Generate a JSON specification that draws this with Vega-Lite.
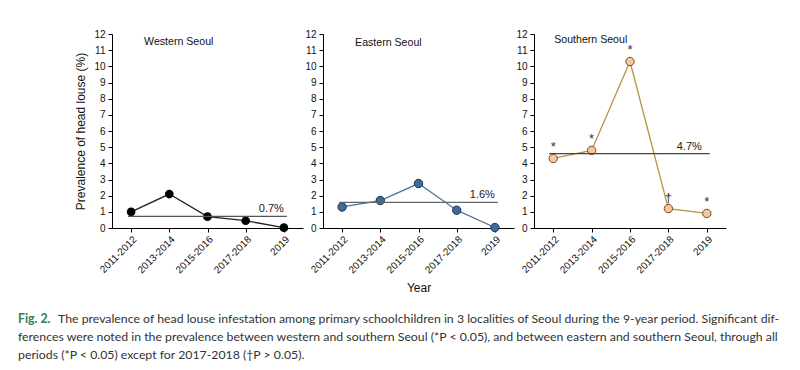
{
  "$schema": "https://vega.github.io/schema/vega-lite/v6.json",
  "padding": {"left": 18, "top": 29, "right": 0, "bottom": 0},
  "background": "white",
  "config": {
    "view": {"stroke": null},
    "font": "Liberation Sans",
    "axis": {
      "domainColor": "#000", "tickColor": "#000", "labelColor": "#111",
      "labelFont": "Liberation Sans", "labelFontSize": 10,
      "titleFont": "Liberation Sans", "titleFontWeight": "normal", "titleFontSize": 12, "titleColor": "#111",
      "grid": false, "tickSize": 4
    }
  },
  "datasets": {
    "prev": [
      {"region": "Western", "period": "2011-2012", "value": 1.0, "sig": ""},
      {"region": "Western", "period": "2013-2014", "value": 2.1, "sig": ""},
      {"region": "Western", "period": "2015-2016", "value": 0.7, "sig": ""},
      {"region": "Western", "period": "2017-2018", "value": 0.45, "sig": ""},
      {"region": "Western", "period": "2019", "value": 0.02, "sig": ""},
      {"region": "Eastern", "period": "2011-2012", "value": 1.3, "sig": ""},
      {"region": "Eastern", "period": "2013-2014", "value": 1.7, "sig": ""},
      {"region": "Eastern", "period": "2015-2016", "value": 2.75, "sig": ""},
      {"region": "Eastern", "period": "2017-2018", "value": 1.1, "sig": ""},
      {"region": "Eastern", "period": "2019", "value": 0.03, "sig": ""},
      {"region": "Southern", "period": "2011-2012", "value": 4.3, "sig": "*"},
      {"region": "Southern", "period": "2013-2014", "value": 4.8, "sig": "*"},
      {"region": "Southern", "period": "2015-2016", "value": 10.3, "sig": "*"},
      {"region": "Southern", "period": "2017-2018", "value": 1.2, "sig": "†"},
      {"region": "Southern", "period": "2019", "value": 0.9, "sig": "*"}
    ],
    "means": [
      {"region": "Western", "mean": 0.72, "label": "0.7%", "name": "Western Seoul"},
      {"region": "Eastern", "mean": 1.58, "label": "1.6%", "name": "Eastern Seoul"},
      {"region": "Southern", "mean": 4.6, "label": "4.7%", "name": "Southern Seoul"}
    ],
    "caption": [
      {"line": 1, "part": "fig", "text": "Fig. 2."},
      {"line": 1, "part": "first", "text": "The prevalence of head louse infestation among primary schoolchildren in 3 localities of Seoul during the 9-year period. Significant dif-"},
      {"line": 2, "part": "rest", "text": "ferences were noted in the prevalence between western and southern Seoul (*P < 0.05), and between eastern and southern Seoul, through all"},
      {"line": 3, "part": "rest", "text": "periods (*P < 0.05) except for 2017-2018 (†P > 0.05)."}
    ]
  },
  "vconcat": [
    {
      "spacing": 20,
      "bounds": "flush",
      "hconcat": [
        {
          "width": 191, "height": 194,
          "layer": [
            {"data": {"name": "prev"}, "transform": [{"filter": "datum.region === 'Western'"}],
             "mark": {"type": "line", "color": "#222", "strokeWidth": 1.3},
             "encoding": {
               "x": {"field": "period", "type": "ordinal", "scale": {"type": "point", "padding": 0.5}, "axis": {"labelAngle": -45, "title": null}},
               "y": {"field": "value", "type": "quantitative", "scale": {"domain": [0, 12], "nice": false}, "axis": {"values": [0,1,2,3,4,5,6,7,8,9,10,11,12], "format": "d", "tickCount": 20, "labelOverlap": false, "labelPadding": 3, "title": "Prevalence of head louse (%)", "titlePadding": 6}}
             }},
            {"data": {"name": "prev"}, "transform": [{"filter": "datum.region === 'Western'"}],
             "mark": {"type": "point", "filled": true, "size": 75, "color": "#000", "opacity": 1},
             "encoding": {"x": {"field": "period", "type": "ordinal"}, "y": {"field": "value", "type": "quantitative"}}},
            {"data": {"name": "means"}, "transform": [{"filter": "datum.region === 'Western'"}],
             "mark": {"type": "rule", "color": "#555", "strokeWidth": 1.2, "xOffset": -3, "x2Offset": 3},
             "encoding": {"x": {"datum": "2011-2012", "type": "ordinal"}, "x2": {"datum": "2019"}, "y": {"field": "mean", "type": "quantitative"}}},
            {"data": {"name": "means"}, "transform": [{"filter": "datum.region === 'Western'"}],
             "mark": {"type": "text", "align": "right", "baseline": "bottom", "dy": -2, "fontSize": 11, "color": "#222"},
             "encoding": {"x": {"datum": "2019", "type": "ordinal"}, "y": {"field": "mean", "type": "quantitative"}, "text": {"field": "label"}}},
            {"data": {"name": "means"}, "transform": [{"filter": "datum.region === 'Western'"}],
             "mark": {"type": "text", "align": "left", "baseline": "middle", "dx": 13, "fontSize": 10.6, "color": "#111"},
             "encoding": {"x": {"datum": "2011-2012", "type": "ordinal"}, "y": {"datum": 11.5, "type": "quantitative"}, "text": {"field": "name"}}}
          ]
        },
        {
          "width": 191, "height": 194,
          "layer": [
            {"data": {"name": "prev"}, "transform": [{"filter": "datum.region === 'Eastern'"}],
             "mark": {"type": "line", "color": "#4f7596", "strokeWidth": 1.3},
             "encoding": {
               "x": {"field": "period", "type": "ordinal", "scale": {"type": "point", "padding": 0.5}, "axis": {"labelAngle": -45, "title": "Year", "titlePadding": 8}},
               "y": {"field": "value", "type": "quantitative", "scale": {"domain": [0, 12], "nice": false}, "axis": {"values": [0,1,2,3,4,5,6,7,8,9,10,11,12], "format": "d", "tickCount": 20, "labelOverlap": false, "labelPadding": 3, "title": null}}
             }},
            {"data": {"name": "prev"}, "transform": [{"filter": "datum.region === 'Eastern'"}],
             "mark": {"type": "point", "filled": true, "size": 70, "fill": "#3e6d9c", "stroke": "#1a334d", "strokeWidth": 1, "opacity": 1},
             "encoding": {"x": {"field": "period", "type": "ordinal"}, "y": {"field": "value", "type": "quantitative"}}},
            {"data": {"name": "means"}, "transform": [{"filter": "datum.region === 'Eastern'"}],
             "mark": {"type": "rule", "color": "#666", "strokeWidth": 1.2, "xOffset": -3, "x2Offset": 3},
             "encoding": {"x": {"datum": "2011-2012", "type": "ordinal"}, "x2": {"datum": "2019"}, "y": {"field": "mean", "type": "quantitative"}}},
            {"data": {"name": "means"}, "transform": [{"filter": "datum.region === 'Eastern'"}],
             "mark": {"type": "text", "align": "right", "baseline": "bottom", "dy": -2, "fontSize": 11, "color": "#222"},
             "encoding": {"x": {"datum": "2019", "type": "ordinal"}, "y": {"field": "mean", "type": "quantitative"}, "text": {"field": "label"}}},
            {"data": {"name": "means"}, "transform": [{"filter": "datum.region === 'Eastern'"}],
             "mark": {"type": "text", "align": "left", "baseline": "middle", "dx": 13, "fontSize": 10.6, "color": "#111"},
             "encoding": {"x": {"datum": "2011-2012", "type": "ordinal"}, "y": {"datum": 11.45, "type": "quantitative"}, "text": {"field": "name"}}}
          ]
        },
        {
          "width": 192, "height": 194,
          "layer": [
            {"data": {"name": "prev"}, "transform": [{"filter": "datum.region === 'Southern'"}],
             "mark": {"type": "line", "color": "#b59445", "strokeWidth": 1.3},
             "encoding": {
               "x": {"field": "period", "type": "ordinal", "scale": {"type": "point", "padding": 0.5}, "axis": {"labelAngle": -45, "title": null}},
               "y": {"field": "value", "type": "quantitative", "scale": {"domain": [0, 12], "nice": false}, "axis": {"values": [0,1,2,3,4,5,6,7,8,9,10,11,12], "format": "d", "tickCount": 20, "labelOverlap": false, "labelPadding": 3, "title": null}}
             }},
            {"data": {"name": "prev"}, "transform": [{"filter": "datum.region === 'Southern'"}],
             "mark": {"type": "point", "filled": true, "size": 70, "fill": "#f4c7a1", "stroke": "#7a4a24", "strokeWidth": 1, "opacity": 1},
             "encoding": {"x": {"field": "period", "type": "ordinal"}, "y": {"field": "value", "type": "quantitative"}}},
            {"data": {"name": "prev"}, "transform": [{"filter": "datum.region === 'Southern'"}],
             "mark": {"type": "text", "baseline": "middle", "dy": -11, "fontSize": 13, "color": "#333"},
             "encoding": {"x": {"field": "period", "type": "ordinal"}, "y": {"field": "value", "type": "quantitative"}, "text": {"field": "sig"}}},
            {"data": {"name": "means"}, "transform": [{"filter": "datum.region === 'Southern'"}],
             "mark": {"type": "rule", "color": "#444", "strokeWidth": 1.2, "xOffset": -4, "x2Offset": 3},
             "encoding": {"x": {"datum": "2011-2012", "type": "ordinal"}, "x2": {"datum": "2019"}, "y": {"field": "mean", "type": "quantitative"}}},
            {"data": {"name": "means"}, "transform": [{"filter": "datum.region === 'Southern'"}],
             "mark": {"type": "text", "align": "right", "baseline": "bottom", "dy": -2, "dx": -5, "fontSize": 11, "color": "#222"},
             "encoding": {"x": {"datum": "2019", "type": "ordinal"}, "y": {"field": "mean", "type": "quantitative"}, "text": {"field": "label"}}},
            {"data": {"name": "means"}, "transform": [{"filter": "datum.region === 'Southern'"}],
             "mark": {"type": "text", "align": "left", "baseline": "middle", "dx": 1, "fontSize": 10.6, "color": "#111"},
             "encoding": {"x": {"datum": "2011-2012", "type": "ordinal"}, "y": {"datum": 11.6, "type": "quantitative"}, "text": {"field": "name"}}}
          ]
        }
      ]
    },
    {
      "width": 680, "height": 54,
      "data": {"name": "caption"},
      "layer": [
        {"transform": [{"filter": "datum.part === 'fig'"}],
         "mark": {"type": "text", "align": "left", "baseline": "middle", "dx": -94, "font": "Lato", "fontSize": 12.3, "fontWeight": "bold", "color": "#2e8059"},
         "encoding": {"x": {"datum": 0, "type": "quantitative", "scale": {"domain": [0, 1]}, "axis": null},
                      "y": {"field": "line", "type": "ordinal", "scale": {"type": "point", "padding": 0.5}, "axis": null},
                      "text": {"field": "text"}}},
        {"transform": [{"filter": "datum.part === 'first'"}],
         "mark": {"type": "text", "align": "left", "baseline": "middle", "dx": -54, "font": "Lato", "fontSize": 12.3, "color": "#333"},
         "encoding": {"x": {"datum": 0, "type": "quantitative"}, "y": {"field": "line", "type": "ordinal"}, "text": {"field": "text"}}},
        {"transform": [{"filter": "datum.part === 'rest'"}],
         "mark": {"type": "text", "align": "left", "baseline": "middle", "dx": -94, "font": "Lato", "fontSize": 12.3, "color": "#333"},
         "encoding": {"x": {"datum": 0, "type": "quantitative"}, "y": {"field": "line", "type": "ordinal"}, "text": {"field": "text"}}}
      ]
    }
  ],
  "spacing": 16
}
